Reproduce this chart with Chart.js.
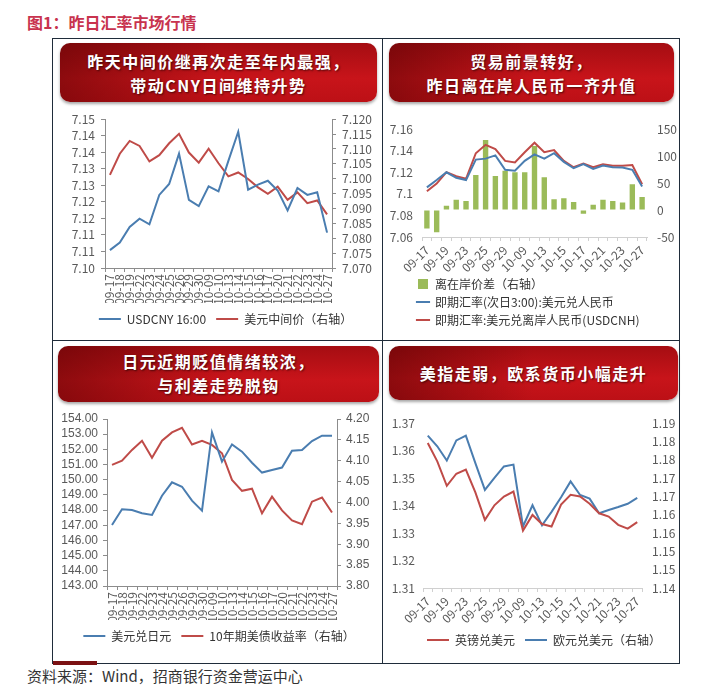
<!DOCTYPE html>
<html>
<head>
<meta charset="utf-8">
<script src="https://cdn.jsdelivr.net/npm/chart.js@4.4.1/dist/chart.umd.min.js"></script>
<style>
  body { margin: 0; background: #fff; width: 707px; height: 695px; position: relative; overflow: hidden;
         font-family: "Noto Sans CJK SC", sans-serif; }
  .abs { position: absolute; }
  .title { left: 27px; top: 10px; font-size: 16px; font-weight: bold; color: #c8334e; }
  .src { left: 27px; top: 665px; font-size: 15px; color: #333; }
  .box { left: 52px; top: 38px; width: 626px; height: 624px; border: 1px solid #1f2c3a; }
  .vl { left: 382px; top: 38px; width: 1px; height: 625px; background: #1f2c3a; }
  .hl { left: 52px; top: 340px; width: 627px; height: 1px; background: #1f2c3a; }
  .mark { left: 53px; top: 661px; width: 44px; height: 4px; background: #7b1113; }
  .hd { color: #fff; font-weight: bold; font-size: 16px; letter-spacing: 1.5px; line-height: 24px; text-align: center;
        border-radius: 10px; box-sizing: border-box;
        background: linear-gradient(90deg, rgba(70,0,0,0.45) 0%, rgba(70,0,0,0) 50%),
                    linear-gradient(180deg, #a50d12 0%, #c8141a 60%, #bc1016 100%);
        box-shadow: 0 2px 3px rgba(0,0,0,0.35); text-shadow: 1px 1px 2px rgba(0,0,0,0.6); }
  canvas { position: absolute; }
</style>
</head>
<body>
<div class="abs title">图1：昨日汇率市场行情</div>
<div class="abs box"></div>
<div class="abs vl"></div>
<div class="abs hl"></div>
<div class="abs mark"></div>
<div class="abs src">资料来源：Wind，招商银行资金营运中心</div>

<div class="abs hd" style="left:60px;top:43px;width:317px;height:59px;padding-top:6px">昨天中间价继再次走至年内最强，<br>带动CNY日间维持升势</div>
<div class="abs hd" style="left:389px;top:43px;width:285px;height:59px;padding-top:6px">贸易前景转好，<br>昨日离在岸人民币一齐升值</div>
<div class="abs hd" style="left:58px;top:346px;width:321px;height:56px;padding-top:3px">日元近期贬值情绪较浓，<br>与利差走势脱钩</div>
<div class="abs hd" style="left:389px;top:346px;width:289px;height:54px;padding-top:15px">美指走弱，欧系货币小幅走升</div>

<canvas id="c1" width="325" height="230" style="left:55px;top:106px"></canvas>
<canvas id="c2" width="294" height="226" style="left:385px;top:112px"></canvas>
<canvas id="c3" width="322" height="246" style="left:58px;top:406px"></canvas>
<canvas id="c4" width="294" height="250" style="left:385px;top:406px"></canvas>

<script>
const dates = ['09-17','09-18','09-19','09-22','09-23','09-24','09-25','09-26','09-29','09-30','10-09','10-10',
  '10-13','10-14','10-15','10-16','10-17','10-20','10-21','10-22','10-23','10-24','10-27']

// panel 1
const usdcny1600 = [7.1094,7.1117,7.1164,7.1189,7.1172,7.1261,7.1294,7.1386,7.1246,7.1227,7.1287,7.1272,
  7.1364,7.1452,7.1277,7.1292,7.1304,7.1274,7.1214,7.1282,7.1261,7.1269,7.1147]
const cnyMid = [7.1013,7.1084,7.1127,7.1110,7.1058,7.1079,7.1119,7.1151,7.1088,7.1054,7.1101,7.1052,
  7.1008,7.1021,7.0999,7.0971,7.0949,7.0973,7.0929,7.0954,7.0918,7.0927,7.0880]
const p1Left = [7.104, 7.149, 0.005]
const p1Right = [7.070, 7.120, 0.005]

// panel 2
const cnhSpread = [-34,-41,8,19,17,65,130,63,73,70,70,119,61,20,22,15,-7,10,19,17,14,48,24]
const usdcny3am = [7.1060,7.1128,7.1200,7.1149,7.1128,7.1318,7.1327,7.1357,7.1223,7.1214,7.1306,7.1366,
  7.1327,7.1377,7.1297,7.1238,7.1277,7.1232,7.1262,7.1247,7.1244,7.1223,7.1069]
const usdcnh = [7.1024,7.1096,7.1202,7.1164,7.1140,7.1377,7.1455,7.1416,7.1306,7.1291,7.1386,7.1475,
  7.1386,7.1407,7.1306,7.1247,7.1282,7.1247,7.1274,7.1262,7.1262,7.1268,7.1090]
const p2Left = [7.06, 7.16, 0.02]
const p2Right = [-50, 150, 50]

// panel 3
const usdjpy = [147.02,148.05,148.00,147.79,147.68,148.95,149.83,149.54,148.62,147.96,153.12,151.19,
  152.33,151.85,151.12,150.47,150.64,150.80,151.91,151.96,152.55,152.90,152.90]
const ust10y = [4.090,4.100,4.126,4.148,4.107,4.148,4.168,4.179,4.139,4.148,4.138,4.118,
  4.054,4.028,4.033,3.974,4.014,3.981,3.957,3.948,4.002,4.012,3.976]
const p3Left = [143, 154, 1]
const p3Right = [3.80, 4.20, 0.05]

// panel 4
const gbpusd = [1.3628,1.3561,1.3472,1.3516,1.3531,1.3448,1.3348,1.3401,1.3433,1.3451,1.3309,1.3366,
  1.3333,1.3324,1.3404,1.3439,1.3433,1.3407,1.3372,1.3360,1.3330,1.3316,1.3340]
const eurusd = [1.1841,1.1812,1.1773,1.1828,1.1841,1.1766,1.1693,1.1726,1.1757,1.1762,1.1593,1.1651,
  1.1596,1.1633,1.1673,1.1716,1.1679,1.1669,1.1629,1.1638,1.1646,1.1655,1.1671]
const p4Left = [1.31, 1.37, 0.01]
const p4Right = [1.1425, 1.1875, 0.005]

const FONT = '"Noto Sans CJK SC", sans-serif'
const TICK = '#595959'
const AXIS = '#8c8c8c'
const LIGHT = '#d0d0d0'
const BLUE = '#4a7db0'
const RED = '#bf4b48'
const GREEN = '#9bbb59'

function line(label, data, color, axis) {
  return { type: 'line', label, data, yAxisID: axis, borderColor: color, backgroundColor: color,
    borderWidth: 2, pointRadius: 0, pointHoverRadius: 0, pointStyle: 'line', pointBorderWidth: 2, tension: 0, order: 0 }
}

function yScale(pos, rng, fmt, width, o = {}) {
  return {
    position: pos, min: rng[0], max: rng[1],
    ticks: { stepSize: rng[2], autoSkip: false, color: TICK, font: { family: o.family || FONT, size: 12 },
      padding: o.pad ?? 5, callback: fmt },
    grid: { drawOnChartArea: false, drawTicks: !!o.line, tickLength: 4, color: AXIS },
    border: { display: !!o.line, color: AXIS },
    afterFit: s => { s.width = width },
  }
}

function xScale(rot, height, every, color) {
  return {
    offset: true,
    grid: { offset: true, drawOnChartArea: false, tickLength: 4, color },
    border: { color },
    ticks: { autoSkip: false, minRotation: rot, maxRotation: rot, color: TICK, font: { family: FONT, size: 12 }, padding: 2,
      callback: (v, i) => i % every === 0 ? dates[i] : '' },
    afterFit: s => { s.height = height },
  }
}

// nudges the legend sideways after layout, so it can start under the plot instead of the canvas edge
const legendShift = {
  id: 'legendShift',
  afterLayout(chart, args, opts) {
    if (opts.dx) { chart.legend.left += opts.dx; chart.legend.right += opts.dx }
  },
}

function makeChart(id, datasets, scales, lg, padding) {
  return new Chart(document.getElementById(id), {
    type: 'line',
    data: { labels: dates, datasets },
    plugins: [legendShift],
    options: {
      responsive: false, animation: false, events: [],
      layout: { padding },
      scales,
      plugins: {
        tooltip: { enabled: false },
        legendShift: { dx: lg.dx || 0 },
        legend: {
          position: 'bottom', align: lg.align || 'center',
          labels: { usePointStyle: true, pointStyleWidth: lg.w, boxHeight: lg.bh || 12, padding: lg.pad,
            color: '#333', font: { family: FONT, size: 12 },
            sort: (a, b) => a.datasetIndex - b.datasetIndex },
        },
      },
    },
  })
}

const f2 = v => v.toFixed(2)

makeChart('c1',
  [line('USDCNY 16:00', usdcny1600, BLUE, 'y'), line('美元中间价（右轴）', cnyMid, RED, 'y1')],
  {
    x: xScale(90, 35, 1, AXIS),
    y: yScale('left', p1Left, f2, 50, { line: true, pad: 6 }),
    y1: yScale('right', p1Right, v => v.toFixed(3), 48, { line: true, pad: 6 }),
  },
  { w: 22, pad: 10, dx: 8 }, { top: 12, bottom: 1, left: 0, right: 0 })

makeChart('c2',
  [{ type: 'bar', label: '离在岸价差（右轴）', data: cnhSpread, yAxisID: 'y1', backgroundColor: GREEN, borderWidth: 0,
     barPercentage: 0.55, categoryPercentage: 1, pointStyle: 'rect', order: 1 },
   line('即期汇率(次日3:00):美元兑人民币', usdcny3am, BLUE, 'y'),
   line('即期汇率:美元兑离岸人民币(USDCNH)', usdcnh, RED, 'y')],
  {
    x: xScale(45, 35, 2, LIGHT),
    y: yScale('left', p2Left, v => String(+v.toFixed(2)), 37, { pad: 9 }),
    y1: yScale('right', p2Right, v => String(Math.round(v)), 32, { pad: 10 }),
  },
  { pad: 6, bh: 10, align: 'start', dx: 26 }, { top: 12, bottom: 2, left: 0, right: 0 })

makeChart('c3',
  [line('美元兑日元', usdjpy, BLUE, 'y'), line('10年期美债收益率（右轴）', ust10y, RED, 'y1')],
  {
    x: xScale(90, 34, 1, AXIS),
    y: yScale('left', p3Left, f2, 49, { line: true, pad: 5, family: '"Liberation Sans", sans-serif' }),
    y1: yScale('right', p3Right, f2, 43, { line: true, pad: 5, family: '"Liberation Sans", sans-serif' }),
  },
  { w: 22, pad: 10 }, { top: 13, bottom: 0, left: 0, right: 0 })

makeChart('c4',
  [line('英镑兑美元', gbpusd, RED, 'y'), line('欧元兑美元（右轴）', eurusd, BLUE, 'y1')],
  {
    x: xScale(45, 36, 2, LIGHT),
    y: yScale('left', p4Left, f2, 38, { pad: 8 }),
    y1: yScale('right', p4Right, f2, 37, { pad: 10 }),
  },
  { w: 22, pad: 10, dx: 12 }, { top: 13, bottom: 0, left: 0, right: 0 })
</script>
</body>
</html>
